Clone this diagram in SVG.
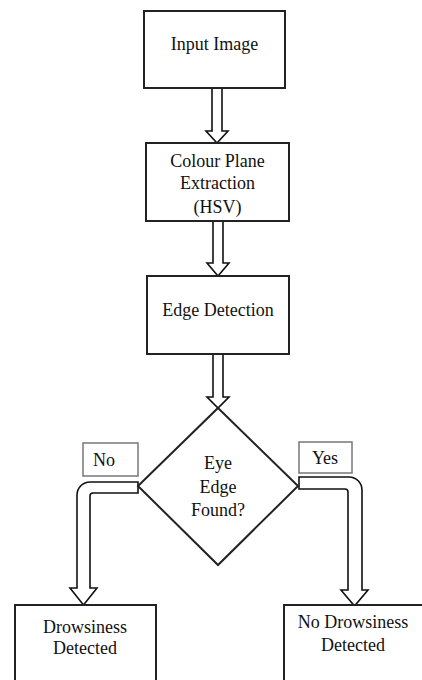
<svg xmlns="http://www.w3.org/2000/svg" width="422" height="680" viewBox="0 0 422 680">
<style>
.box{fill:#fff;stroke:#222;stroke-width:2}
.lbl{fill:#fff;stroke:#777;stroke-width:1.5}
.arr{fill:#fff;stroke:#111;stroke-width:1.6;stroke-linejoin:miter}
.t{font-family:'Liberation Serif','DejaVu Serif','Times New Roman',serif;font-size:18px;fill:#111;text-anchor:middle}
</style>
<rect width="422" height="680" fill="#fff"/>
<g id="connectors">
<path class="arr" d="M212,88 V131 H206 L217,143 L228,131 H222 V88"/>
<path class="arr" d="M213,221 V263 H207 L218,276 L229,263 H223 V221"/>
<path class="arr" d="M213,354 V397 H207 L218,408 L229,397 H223 V354"/>
<path class="arr" d="M138,482 H90 A13,13 0 0 0 77,495 V588 H70 L83.5,605 L97,588 H90 V496 A3,3 0 0 1 93,493 H138 Z"/>
<path class="arr" d="M299,477 H349 A13,13 0 0 1 362,490 V590 H368 L354.5,606 L341,590 H348 V492 A3,3 0 0 0 345,489 H299 Z"/>
</g>
<g id="input-image">
<rect class="box" x="144" y="11" width="141" height="77"/>
<text class="t" x="214.5" y="50" font-family="Liberation Serif, serif">Input Image</text>
</g>
<g id="colour-plane">
<rect class="box" x="146" y="143" width="143" height="78"/>
<text class="t" x="217.5" y="167">Colour Plane</text>
<text class="t" x="217.5" y="189">Extraction</text>
<text class="t" x="217.5" y="213">(HSV)</text>
</g>
<g id="edge-detection">
<rect class="box" x="147" y="276" width="142" height="78"/>
<text class="t" x="218" y="316">Edge Detection</text>
</g>
<g id="decision">
<polygon class="box" points="218,408 298,486 218,565 138,486"/>
<text class="t" x="218" y="469">Eye</text>
<text class="t" x="218" y="493">Edge</text>
<text class="t" x="218" y="516">Found?</text>
</g>
<g id="label-no">
<rect class="lbl" x="83" y="443" width="55" height="33"/>
<text class="t" x="104" y="466">No</text>
</g>
<g id="label-yes">
<rect class="lbl" x="299" y="442" width="53" height="31"/>
<text class="t" x="325" y="464">Yes</text>
</g>
<g id="drowsiness-detected">
<rect class="box" x="15" y="605" width="141" height="85"/>
<text class="t" x="85" y="633">Drowsiness</text>
<text class="t" x="85" y="654">Detected</text>
</g>
<g id="no-drowsiness-detected">
<rect class="box" x="284" y="605" width="150" height="85"/>
<text class="t" x="353" y="628">No Drowsiness</text>
<text class="t" x="353" y="651">Detected</text>
</g>
</svg>
